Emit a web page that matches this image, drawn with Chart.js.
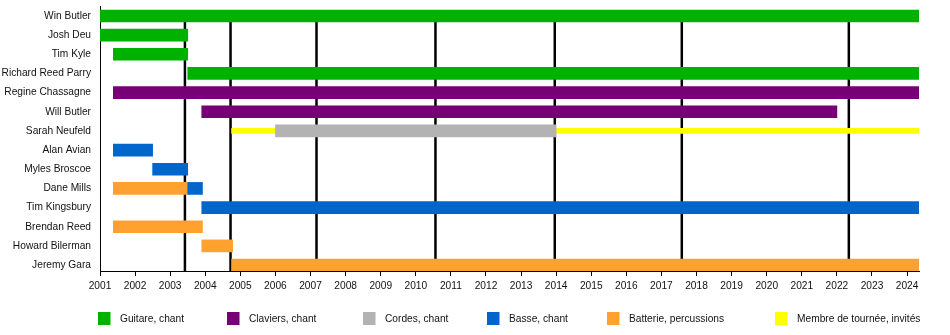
<!DOCTYPE html>
<html>
<head>
<meta charset="utf-8">
<title>Arcade Fire</title>
<script src="https://cdn.jsdelivr.net/npm/chart.js@4.4.1/dist/chart.umd.min.js"></script>
<style>
  html, body { margin: 0; padding: 0; background: #fff; }
  #wrap { position: relative; width: 950px; height: 335px; }
</style>
</head>
<body>
<div id="wrap"><canvas id="timeline" width="950" height="335"></canvas></div>
<script>
const members = [
    'Win Butler', 'Josh Deu', 'Tim Kyle', 'Richard Reed Parry', 'Regine Chassagne',
    'Will Butler', 'Sarah Neufeld', 'Alan Avian', 'Myles Broscoe', 'Dane Mills',
    'Tim Kingsbury', 'Brendan Reed', 'Howard Bilerman', 'Jeremy Gara'
];
const years = [2001, 2002, 2003, 2004, 2005, 2006, 2007, 2008, 2009, 2010, 2011, 2012,
    2013, 2014, 2015, 2016, 2017, 2018, 2019, 2020, 2021, 2022, 2023, 2024];
// album releases (vertical black lines)
const albumDates = [2003.42, 2004.72, 2007.17, 2010.56, 2013.96, 2017.58, 2022.34];

// [member, from, to]
const guitare = [
    ['Win Butler', 2001.0, 2024.34],
    ['Josh Deu', 2001.0, 2003.5],
    ['Tim Kyle', 2001.38, 2003.5],
    ['Richard Reed Parry', 2003.5, 2024.34]
];
const claviers = [
    ['Regine Chassagne', 2001.38, 2024.34],
    ['Will Butler', 2003.9, 2022.0]
];
const cordes = [
    ['Sarah Neufeld', 2006.0, 2014.0]
];
const basse = [
    ['Alan Avian', 2001.38, 2002.5],
    ['Myles Broscoe', 2002.5, 2003.5],
    ['Dane Mills', 2003.5, 2003.92],
    ['Tim Kingsbury', 2003.9, 2024.34]
];
const batterie = [
    ['Dane Mills', 2001.38, 2003.5],
    ['Brendan Reed', 2001.38, 2003.92],
    ['Howard Bilerman', 2003.9, 2004.78],
    ['Jeremy Gara', 2004.75, 2024.34]
];
const tournee = [
    ['Sarah Neufeld', 2004.75, 2006.0],
    ['Sarah Neufeld', 2014.0, 2024.34]
];

const roles = [
    { label: 'Guitare, chant', spans: guitare, color: '#00b200', thick: 12 },
    { label: 'Claviers, chant', spans: claviers, color: '#770077', thick: 12 },
    { label: 'Cordes, chant', spans: cordes, color: '#b3b3b3', thick: 12 },
    { label: 'Basse, chant', spans: basse, color: '#0066cc', thick: 12 },
    { label: 'Batterie, percussions', spans: batterie, color: '#ffa12e', thick: 12 },
    { label: 'Membre de tournée, invités', spans: tournee, color: '#ffff00', thick: 5 }
];
const legendX = [98, 227, 363, 487, 607, 775];

const FONT = '"Liberation Sans", Arial, sans-serif';
const FONT_SIZE = 10.2;

function toPoints(spans) {
    return spans.map(([name, from, to]) => ({ y: members.indexOf(name), x: [from, to] }));
}

// release lines behind the bars
const albumLines = {
    id: 'albumLines',
    beforeDatasetsDraw(chart) {
        const { ctx, chartArea, scales } = chart;
        const top = scales.y.getPixelForValue(0);
        ctx.save();
        ctx.strokeStyle = '#000';
        ctx.lineWidth = 2.5;
        albumDates.forEach(d => {
            const x = scales.x.getPixelForValue(d);
            ctx.beginPath();
            ctx.moveTo(x, top);
            ctx.lineTo(x, chartArea.bottom);
            ctx.stroke();
        });
        ctx.restore();
    }
};

// legend row under the axis
const roleLegend = {
    id: 'roleLegend',
    afterDraw(chart) {
        const ctx = chart.ctx;
        ctx.save();
        ctx.font = FONT_SIZE + 'px ' + FONT;
        ctx.textBaseline = 'middle';
        ctx.textAlign = 'left';
        roles.forEach((r, i) => {
            const x = legendX[i];
            ctx.fillStyle = r.color;
            ctx.fillRect(x, 312, 12.5, 13);
            ctx.fillStyle = '#111';
            ctx.fillText(r.label, x + 22, 319);
        });
        ctx.restore();
    }
};

new Chart(document.getElementById('timeline'), {
    type: 'bar',
    data: {
        datasets: roles.map(r => ({
            label: r.label,
            data: toPoints(r.spans),
            backgroundColor: r.color,
            borderWidth: 0,
            barThickness: r.thick,
            grouped: false
        }))
    },
    options: {
        indexAxis: 'y',
        responsive: false,
        animation: false,
        layout: { padding: { top: 6, right: 31, bottom: 0, left: 0 } },
        plugins: {
            legend: { display: false },
            tooltip: { enabled: false }
        },
        scales: {
            x: {
                type: 'linear',
                min: 2001,
                max: 2024.34,
                beginAtZero: false,
                grid: {
                    drawOnChartArea: false,
                    drawTicks: true,
                    tickLength: 5,
                    color: '#000'
                },
                border: { display: true, color: '#000', width: 1 },
                afterBuildTicks: s => { s.ticks = years.map(v => ({ value: v })); },
                afterFit: s => {
                    s.height = 64;
                    s.paddingLeft = 0;
                    s.paddingRight = 0;
                },
                ticks: {
                    padding: 4,
                    maxRotation: 0,
                    autoSkip: false,
                    color: '#111',
                    font: { family: FONT, size: FONT_SIZE },
                    callback: v => String(v)
                }
            },
            y: {
                type: 'linear',
                reverse: true,
                offset: false,
                min: -0.52,
                max: 13.31,
                grid: { display: false, offset: false, tickLength: 0 },
                border: { display: true, color: '#000', width: 1 },
                afterBuildTicks: s => { s.ticks = members.map((m, i) => ({ value: i })); },
                afterFit: s => {
                    s.width = 100;
                    s.paddingTop = 0;
                    s.paddingBottom = 0;
                },
                ticks: {
                    padding: 9,
                    autoSkip: false,
                    color: '#111',
                    font: { family: FONT, size: FONT_SIZE },
                    callback: v => members[v]
                }
            }
        }
    },
    plugins: [albumLines, roleLegend]
});
</script>
</body>
</html>
